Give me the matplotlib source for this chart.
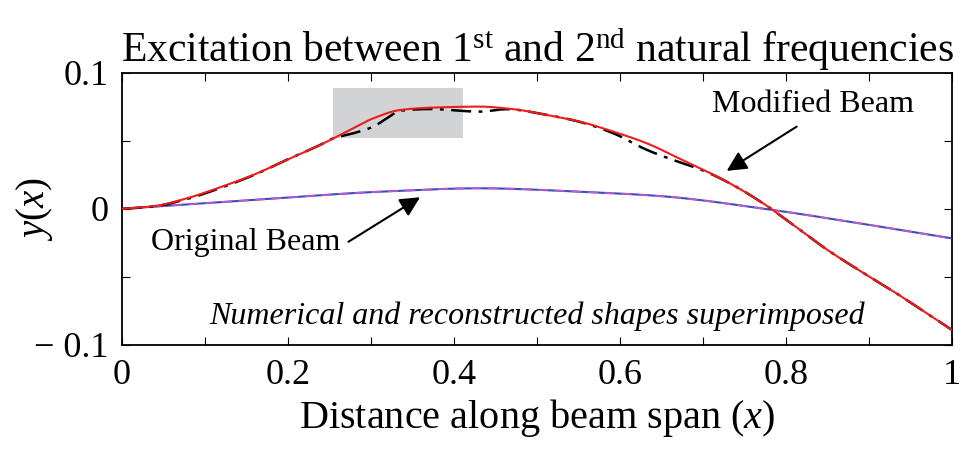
import matplotlib
matplotlib.use('Agg')
import matplotlib.pyplot as plt
import numpy as np
from matplotlib.patches import Rectangle

plt.rcParams['font.family'] = ['Liberation Serif', 'DejaVu Serif']
plt.rcParams['mathtext.fontset'] = 'custom'
plt.rcParams['mathtext.rm'] = 'Liberation Serif'
plt.rcParams['mathtext.it'] = 'Liberation Serif:italic'

# Modified beam, numerical shape
mod_x = [0.0, 0.038, 0.078, 0.118, 0.158, 0.198, 0.2386, 0.2787, 0.3028,
         0.335, 0.371, 0.431, 0.4715, 0.5117, 0.552, 0.592, 0.632, 0.672, 0.7285,
         0.7687, 0.8088, 0.849, 0.889, 0.929, 0.969, 1.0]
mod_y = [0.0, 0.002, 0.0077, 0.0158, 0.0249, 0.0359, 0.0469, 0.0592, 0.0665,
         0.0726, 0.0743, 0.0751, 0.0732, 0.069, 0.064, 0.0567, 0.0482, 0.0368, 0.0200,
         0.0055, -0.0118, -0.0298, -0.0455, -0.0605, -0.0765, -0.089]

# Modified beam, reconstructed shape
rec_x = [0.0, 0.038, 0.078, 0.118, 0.138, 0.158, 0.198, 0.2386, 0.2546, 0.2787,
         0.3028, 0.319, 0.335, 0.371, 0.431, 0.4635, 0.5117, 0.552, 0.592,
         0.632, 0.672, 0.696, 0.7285, 0.7687, 0.8088, 0.849, 0.889, 0.929,
         0.969, 1.0]
rec_y = [0.0, 0.0017, 0.0072, 0.0152, 0.0198, 0.0246, 0.0359, 0.0469, 0.0518, 0.0555,
         0.0604, 0.0665, 0.0721, 0.0733, 0.0714, 0.0732, 0.069, 0.0638, 0.0555,
         0.0434, 0.0342, 0.0292, 0.0200, 0.0055, -0.0118, -0.0298, -0.0455, -0.0605,
         -0.0765, -0.089]

# Original beam
orig_x = [0.0, 0.158, 0.311, 0.431, 0.552, 0.648, 0.7847, 0.889, 1.0]
orig_y = [0.0, 0.0065, 0.0126, 0.0151, 0.0126, 0.0094, -0.0009, -0.0107, -0.0217]

# highlighted region (x0, x1, y0, y1)
box = [0.254, 0.411, 0.052, 0.0888]

xticks = [0.0, 0.1, 0.2, 0.3, 0.4, 0.5, 0.6, 0.7, 0.8, 0.9, 1.0]
xticklabels = ['0', '', '0.2', '', '0.4', '', '0.6', '', '0.8', '', '1']
yticks = [-0.1, -0.05, 0.0, 0.05, 0.1]
yticklabels = ['\u2212 0.1', '', '0', '', '0.1']


def pchip(xs, ys, steps=25):
    """Monotone cubic Hermite curve through the points."""
    x = np.asarray(xs, float)
    y = np.asarray(ys, float)
    h = np.diff(x)
    delta = np.diff(y) / h
    d = np.zeros_like(y)
    d[0], d[-1] = delta[0], delta[-1]
    for k in range(1, len(x) - 1):
        if delta[k - 1] * delta[k] > 0:
            w1 = 2 * h[k] + h[k - 1]
            w2 = h[k] + 2 * h[k - 1]
            d[k] = (w1 + w2) / (w1 / delta[k - 1] + w2 / delta[k])
    ox, oy = [], []
    t = np.linspace(0, 1, steps, endpoint=False)
    for k in range(len(x) - 1):
        h00 = 2 * t ** 3 - 3 * t ** 2 + 1
        h10 = t ** 3 - 2 * t ** 2 + t
        h01 = -2 * t ** 3 + 3 * t ** 2
        h11 = t ** 3 - t ** 2
        ox.extend(x[k] + t * h[k])
        oy.extend(h00 * y[k] + h10 * h[k] * d[k] + h01 * y[k + 1] + h11 * h[k] * d[k + 1])
    ox.append(x[-1])
    oy.append(y[-1])
    return np.array(ox), np.array(oy)


fig = plt.figure(figsize=(9.64, 4.59), dpi=100)
ax = fig.add_axes([0.1266, 0.2484, 0.8610, 0.5932])

ax.add_patch(Rectangle((box[0], box[2]), box[1] - box[0], box[3] - box[2],
                       facecolor='#d2d3d5', edgecolor='none', zorder=0))

ox, oy = pchip(orig_x, orig_y)
ax.plot(ox, oy, color='#3a4cc0', lw=1.5, zorder=2)
ax.plot(ox, oy, color='#c65ac6', lw=1.2, ls=(0, (6, 4)), zorder=3)

rx, ry = pchip(rec_x, rec_y)
ax.plot(rx, ry, color='k', lw=1.8, ls=(0, (8, 3, 1.5, 3)), zorder=3)
mx, my = pchip(mod_x, mod_y)
ax.plot(mx, my, color='#f01c1c', lw=1.5, zorder=4)

arrow = dict(arrowstyle='-|>', color='k', lw=1.5, mutation_scale=30,
             shrinkA=0, shrinkB=0)
ax.annotate('', xy=(0.7285, 0.0279), xytext=(0.8128, 0.0604), arrowprops=arrow)
ax.annotate('', xy=(0.359, 0.0085), xytext=(0.2727, -0.0242), arrowprops=arrow)
ax.text(0.833, 0.0763, 'Modified Beam', fontsize=23, ha='center', va='center')
ax.text(0.149, -0.0245, 'Original Beam', fontsize=23, ha='center', va='center')
ax.text(0.5, -0.0788, 'Numerical and reconstructed shapes superimposed',
        fontsize=23, style='italic', ha='center', va='center')

ax.set_xlim(0, 1)
ax.set_ylim(-0.1, 0.1)
ax.set_xticks(xticks)
ax.set_xticklabels(xticklabels)
ax.set_yticks(yticks)
ax.set_yticklabels(yticklabels)
ax.tick_params(direction='in', length=6, width=0.8, labelsize=26,
               top=True, right=True, pad=10)
for s in ax.spines.values():
    s.set_linewidth(1.3)

ax.set_xlabel('Distance along beam span ($x$)', fontsize=29, labelpad=4)
ax.set_ylabel('$y(x)$', fontsize=28, va='center')
ax.yaxis.set_label_coords(-0.105, 0.5)
ax.set_title('Excitation between 1$^{\\rm st}$ and 2$^{\\rm nd}$ natural frequencies',
             fontsize=30, pad=8)

fig.savefig('out.png', dpi=100)
